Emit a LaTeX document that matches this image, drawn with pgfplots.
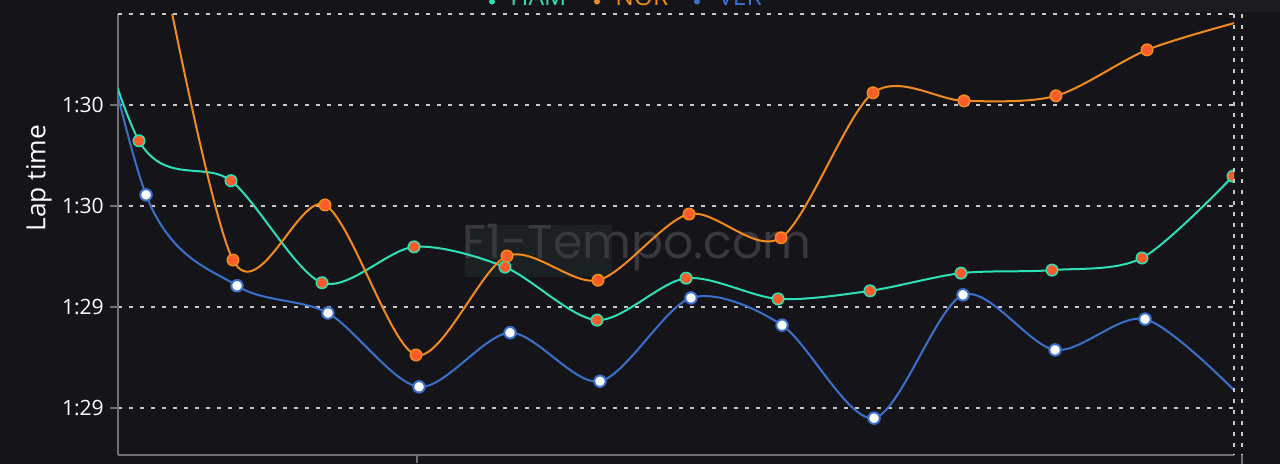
\documentclass[border=0pt]{standalone}
\usepackage{fontspec}
\setmainfont{Open Sans}
\newfontfamily\wmfont{Poppins}
\usepackage{pgfplots}
\pgfplotsset{compat=1.18}

\definecolor{bg}{HTML}{151519}
\definecolor{hamc}{HTML}{2EE0B5}
\definecolor{norc}{HTML}{F28A1C}
\definecolor{verc}{HTML}{3B6FCC}
\definecolor{dotc}{HTML}{FF5C2B}
\definecolor{axc}{HTML}{707070}
\definecolor{gridc}{HTML}{C8C8C8}
\definecolor{wmbox}{HTML}{1B2023}
\definecolor{wmtext}{HTML}{38383E}
\definecolor{topband}{HTML}{1C1C20}

\begin{document}
\begin{tikzpicture}
  % background and watermark
  \fill[bg] (0,0) rectangle (256mm,92.8mm);
  \fill[wmbox] (93mm,37.4mm) rectangle (122.4mm,47.8mm);
  \fill[topband] (224mm,90.4mm) rectangle (256mm,92.8mm);
  \node[text=wmtext, font=\wmfont\fontsize{27}{30}\selectfont]
    at (127.4mm,43.2mm) {F1-Tempo.com};

  \begin{axis}[
    at={(23.6mm,1.8mm)}, anchor=south west,
    scale only axis, width=223.2mm, height=88.2mm,
    xmin=0, xmax=12.23, ymin=89.107, ymax=89.98,
    axis x line*=bottom, axis y line*=left,
    axis line style={-, axc, line width=0.3mm},
    ytick={89.2,89.4,89.6,89.8},
    yticklabels={1:29,1:29,1:30,1:30},
    xtick={3.277}, xticklabels={},
    tick align=outside, major tick length=1.6mm,
    tick style={axc, line width=0.3mm},
    ymajorgrids,
    major grid style={gridc, dash pattern=on 0.8mm off 1.4mm, line width=0.3mm},
    yticklabel style={font=\fontsize{12}{14}\selectfont, text=white},
    ylabel={Lap time},
    ylabel style={font=\fontsize{15}{18}\selectfont, text=white,
      at={(axis description cs:-0.071,0.628)}, anchor=center},
    clip marker paths=true,
    every axis plot/.append style={smooth, tension=0.5, line width=0.4mm},
  ]
    % HAM
    \addplot[hamc, mark=*, mark size=1.15mm,
      mark options={fill=dotc, draw=hamc, line width=0.3mm}]
      coordinates {(-0.767,90.285) (0.230,89.729) (1.238,89.650) (2.236,89.448)
        (3.244,89.519) (4.241,89.479) (5.249,89.374) (6.225,89.457) (7.233,89.416)
        (8.241,89.432) (9.238,89.467) (10.236,89.473) (11.222,89.497) (12.219,89.659)};
    % NOR
    \addplot[norc, mark=*, mark size=1.15mm,
      mark options={fill=dotc, draw=norc, line width=0.3mm}]
      coordinates {(0.263,90.285) (1.260,89.493) (2.268,89.602) (3.266,89.305)
        (4.263,89.501) (5.260,89.453) (6.258,89.584) (7.266,89.537) (8.274,89.824)
        (9.271,89.808) (10.279,89.818) (11.277,89.909) (12.274,89.964)};
    % VER
    \addplot[verc, mark=*, mark size=1.15mm,
      mark options={fill=white, draw=verc, line width=0.4mm}]
      coordinates {(-0.690,90.364) (0.307,89.622) (1.304,89.442) (2.301,89.388)
        (3.299,89.242) (4.296,89.349) (5.282,89.253) (6.279,89.418) (7.277,89.364)
        (8.285,89.180) (9.260,89.424) (10.269,89.315) (11.255,89.376) (12.260,89.230)};
    \coordinate (tl) at (rel axis cs:0,1);
    \coordinate (tr) at (rel axis cs:1,1);
    \coordinate (br) at (rel axis cs:1,0);
  \end{axis}

  % top grid line and right edge lines
  \draw[gridc, dash pattern=on 0.8mm off 1.4mm, line width=0.3mm] (tl) -- (tr);
  \draw[gridc, dash pattern=on 0.8mm off 1.4mm, line width=0.3mm] (tr) -- (br);
  \draw[gridc, dash pattern=on 0.8mm off 1.4mm, line width=0.3mm]
    ([xshift=1.6mm]tr) -- ([xshift=1.6mm]br);
  \draw[axc, line width=0.3mm] ([xshift=1.6mm]br) -- ++(0,-1.8mm);

  % legend (cut at top edge)
  \fill[hamc] (98.4mm,92.5mm) circle (0.6mm);
  \node[anchor=base west, inner sep=0, text=hamc, font=\fontsize{14}{16}\selectfont]
    at (102mm,91.8mm) {HAM};
  \fill[norc] (119.4mm,92.5mm) circle (0.6mm);
  \node[anchor=base west, inner sep=0, text=norc, font=\fontsize{14}{16}\selectfont]
    at (123mm,91.8mm) {NOR};
  \fill[verc] (139.4mm,92.5mm) circle (0.6mm);
  \node[anchor=base west, inner sep=0, text=verc, font=\fontsize{14}{16}\selectfont]
    at (143.6mm,91.8mm) {VER};

  \pgfresetboundingbox
  \useasboundingbox (0,0) rectangle (256mm,92.8mm);
\end{tikzpicture}
\end{document}
